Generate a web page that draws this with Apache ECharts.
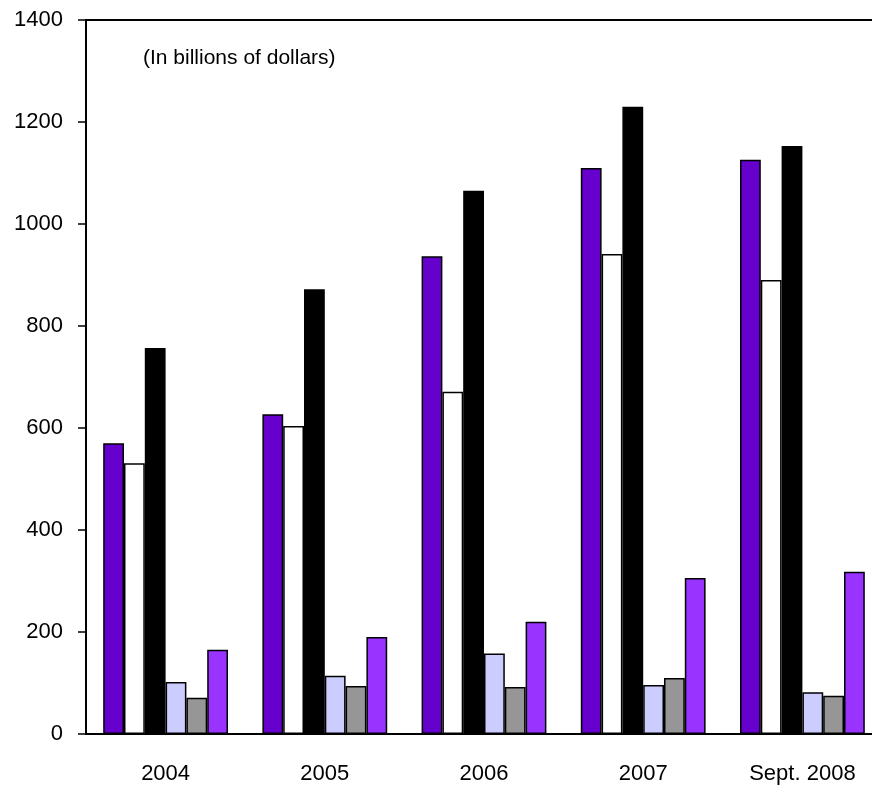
<!DOCTYPE html>
<html>
<head>
<meta charset="utf-8">
<script src="https://cdn.jsdelivr.net/npm/echarts@6/dist/echarts.min.js"></script>
<style>
  html, body { margin: 0; padding: 0; background: #fff; overflow: hidden; }
  #wrap { width: 872px; height: 785px; overflow: hidden; }
  /* the plot runs a little past the right edge of the page */
  #chart { width: 882px; height: 785px; }
</style>
</head>
<body>
<div id="wrap"><div id="chart"></div></div>
<script>
// Categories along the x axis
const categories = ['2004', '2005', '2006', '2007', 'Sept. 2008'];

// Six series per year, in billions of dollars
const seriesA = [570, 627, 937, 1110, 1126];
const seriesB = [531, 604, 671, 941, 890];
const seriesC = [757, 872, 1065, 1230, 1153];
const seriesD = [102, 114, 158, 96, 82];
const seriesE = [71, 94, 92, 110, 75];
const seriesF = [165, 190, 220, 306, 318];

const seriesValues = [seriesA, seriesB, seriesC, seriesD, seriesE, seriesF];
const seriesColors = ['#6600CC', '#FFFFFF', '#000000', '#CCCCFF', '#969696', '#9933FF'];

const yTicks = { min: 0, max: 1400, interval: 200 };

const font = '"Liberation Sans", Arial, sans-serif';

const chart = echarts.init(document.getElementById('chart'), null, { renderer: 'canvas' });

chart.setOption({
  animation: false,
  backgroundColor: '#fff',
  grid: {
    left: 86, top: 20, right: 0, bottom: 51,
    show: true, borderColor: '#000', borderWidth: 2, backgroundColor: 'transparent'
  },
  graphic: [{
    type: 'text',
    left: 143, top: 48,
    style: { text: '(In billions of dollars)', font: '21px ' + font, fill: '#000' }
  }],
  xAxis: {
    type: 'category',
    data: categories,
    axisLine: { lineStyle: { color: '#000', width: 2 } },
    axisTick: { show: false },
    axisLabel: { color: '#000', fontSize: 22, fontFamily: font, margin: 29, interval: 0 }
  },
  yAxis: {
    type: 'value',
    min: yTicks.min, max: yTicks.max, interval: yTicks.interval,
    axisLine: { show: true, lineStyle: { color: '#000', width: 2 } },
    axisTick: { show: true, length: 8, lineStyle: { color: '#000', width: 1.5 } },
    splitLine: { show: false },
    axisLabel: { color: '#000', fontSize: 22, fontFamily: font, margin: 23, formatter: v => String(v) }
  },
  series: seriesValues.map((vals, i) => ({
    type: 'bar',
    data: vals,
    barGap: '0%',
    barCategoryGap: '21.6%',
    itemStyle: { color: seriesColors[i], borderColor: '#000', borderWidth: 1.5 }
  }))
});
</script>
</body>
</html>
